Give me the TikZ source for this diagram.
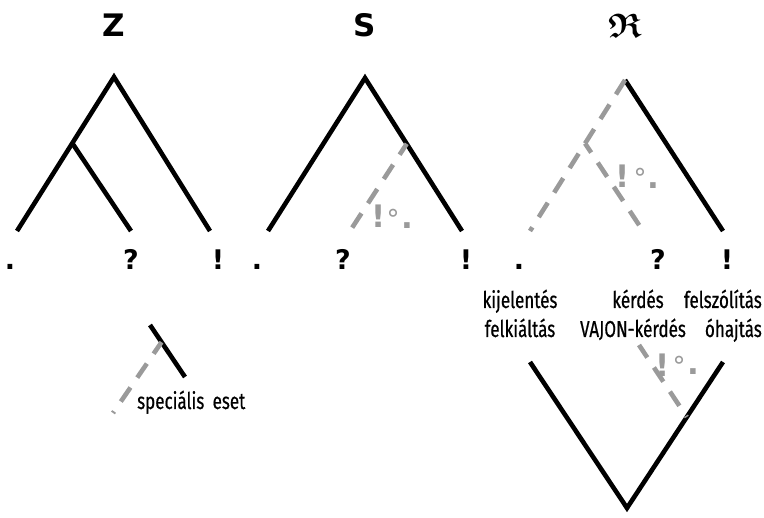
\documentclass[tikz,border=0pt]{standalone}
\usepackage{amsmath}
\usepackage{amssymb}
\usepackage{fontspec}
\usetikzlibrary{calc}
\setsansfont{Fira Sans}
\newfontfamily\condfont[FakeStretch=0.74,FakeBold=0.6]{Fira Sans}
\newfontfamily\heavyfont{DejaVu Sans}
\definecolor{dashgray}{HTML}{9A9A9A}
\begin{document}
\begin{tikzpicture}[x=1pt,y=-1pt]
\useasboundingbox (0,0) rectangle (764,518);
\tikzset{
  leg/.style={line width=4.6pt, black},
  gleg/.style={line width=4.6pt, dashgray, dash pattern=on 17pt off 12pt},
  ttl/.style={inner sep=0pt, font=\heavyfont\bfseries\fontsize{31}{31}\selectfont},
  punct/.style={inner sep=0pt, anchor=base, font=\heavyfont\bfseries\fontsize{27}{27}\selectfont},
  word/.style={inner sep=0pt, anchor=base, font=\condfont\fontsize{23}{23}\selectfont},
  gmark/.style={inner sep=0pt, anchor=base, text=dashgray, font=\heavyfont\bfseries\fontsize{31}{31}\selectfont},
  gring/.style={inner sep=0pt, text=dashgray, font=\heavyfont\fontsize{26}{26}\selectfont}
}
% ---------- titles
\node[ttl] (tZ) at (114,25) {Z};
\node[ttl] (tS) at (365,25) {S};
\node[inner sep=0pt, font=\fontsize{34}{34}\selectfont] (tR) at (625,26) {$\boldsymbol{\mathfrak{R}}$};

% ---------- Z tree
\coordinate (zA) at (114,77);
\coordinate (zL) at (17,231);
\coordinate (zR) at (210,231);
\coordinate (zB) at ($(zA)!0.43!(zL)$);
\coordinate (zQ) at (131,231);
\draw[leg] (zL) -- (zA) -- (zR);
\draw[leg] (zB) -- (zQ);
\node[punct] (z1) at (10,270) {.};
\node[punct] (z2) at (131,270) {?};
\node[punct] (z3) at (218,270) {!};

% ---------- S tree
\coordinate (sA) at (365,78);
\coordinate (sL) at (268,231);
\coordinate (sR) at (462,231);
\coordinate (sM) at ($(sA)!0.43!(sR)$);
\coordinate (sD) at (350,231);
\draw[leg] (sL) -- (sA) -- (sR);
\draw[gleg, dash phase=4pt] (sM) -- (sD);
\node[gmark] (s!) at (379,228) {!};
\node[gring] (so) at (393,219) {°};
\node[gmark] (sp) at (407,229) {.};
\node[punct] (s1) at (257,270) {.};
\node[punct] (s2) at (343,270) {?};
\node[punct] (s3) at (466,270) {!};

% ---------- R tree
\coordinate (rA) at (625,80);
\coordinate (rL) at (530,231);
\coordinate (rR) at (723,231);
\coordinate (rM) at ($(rA)!0.42!(rL)$);
\coordinate (rD) at (643,231);
\draw[leg] (rA) -- (rR);
\draw[gleg] (rA) -- (rL);
\draw[gleg, dash phase=6pt] (rM) -- (rD);
\node[gmark] (r!) at (623,188) {!};
\node[gring] (ro) at (640,178) {°};
\node[gmark] (rp) at (653,189) {.};
\node[punct] (r1) at (519,270) {.};
\node[punct] (r2) at (658,270) {?};
\node[punct] (r3) at (727,270) {!};

% ---------- words
\node[word] (w1) at (520,308) {kijelentés};
\node[word] (w2) at (520,337) {felkiáltás};
\node[word] (w3) at (638,308) {kérdés};
\node[word] (w4) at (633,337) {VAJON-kérdés};
\node[word, anchor=base east] (w5) at (762,308) {felszólítás};
\node[word, anchor=base east] (w6) at (762,337) {óhajtás};

% ---------- lower V
\coordinate (vL) at (530,362);
\coordinate (vB) at (627,508);
\coordinate (vR) at (723,362);
\coordinate (vM) at ($(vB)!0.623!(vR)$);
\coordinate (vD) at (639,345);
\draw[leg] (vL) -- (vB) -- (vR);
\draw[gleg, dash phase=2pt] (vD) -- (vM);
\node[gmark] (v!) at (663,377) {!};
\node[gring] (vo) at (679,366) {°};
\node[gmark] (vp) at (693,375) {.};

% ---------- special case
\coordinate (cT) at (150,325);
\coordinate (cB) at (185,377);
\coordinate (cM) at ($(cT)!0.33!(cB)$);
\coordinate (cD) at (113,413);
\draw[leg] (cT) -- (cB);
\draw[gleg, dash phase=3pt] (cM) -- (cD);
\node[word, anchor=base west] (sc) at (137,409) {speciális\, eset};
\end{tikzpicture}
\end{document}
